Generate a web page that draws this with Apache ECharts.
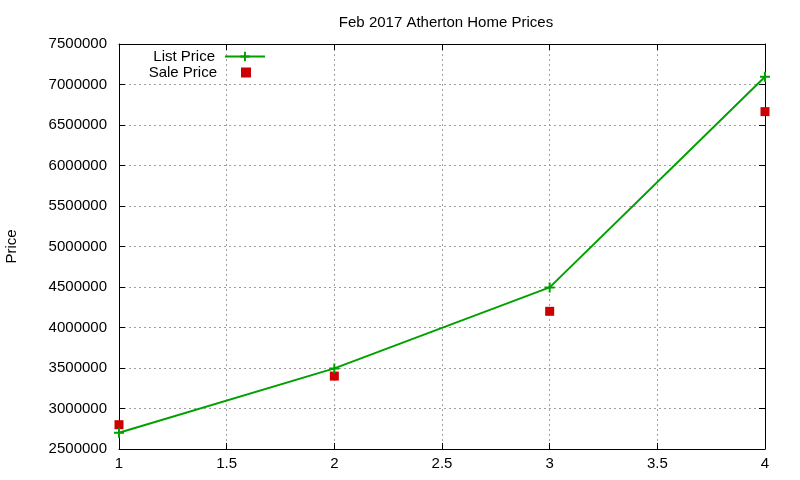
<!DOCTYPE html>
<html><head><meta charset="utf-8">
<script src="https://cdn.jsdelivr.net/npm/echarts@6/dist/echarts.min.js"></script>
<style>html,body{margin:0;padding:0;background:#fff}#c{width:800px;height:480px}</style>
</head><body><div id="c"></div>
<script>
const xValues = [1, 2, 3, 4];
const listPrice = [2700000, 3495000, 4495000, 7095000];
const salePrice = [2800000, 3400000, 4200000, 6665000];
const titleText = 'Feb 2017 Atherton Home Prices';
const yName = 'Price';

const chart = echarts.init(document.getElementById('c'));
const font = 'Liberation Sans, Arial, sans-serif';
const fs = 15;
const plus = 'path://M4,0H6V4H10V6H6V10H4V6H0V4H4Z';
const square = 'path://M0,0H10V10H0Z';
const axisCommon = {
  axisLine: {show: true, lineStyle: {color: '#000', width: 1}},
  axisTick: {show: true, inside: true, length: 6, lineStyle: {color: '#000'}},
};
chart.setOption({
  animation: false,
  title: {text: titleText, left: 441, top: 10, textAlign: 'center',
    textStyle: {fontFamily: font, fontSize: fs, fontWeight: 'normal', color: '#000'}},
  grid: {left: 119, right: 35, top: 44, bottom: 31, containLabel: false, outerBoundsMode: 'none'},
  legend: [{
    orient: 'horizontal', right: 534, top: 49, align: 'right', padding: 0,
    itemWidth: 40, itemHeight: 12,
    textStyle: {fontFamily: font, fontSize: fs, color: '#000', padding: [0, 5, 0, 0]},
    data: [{name: 'List Price'}]
  }, {
    orient: 'horizontal', right: 549, top: 65, align: 'right', padding: 0,
    itemWidth: 10, itemHeight: 10,
    textStyle: {fontFamily: font, fontSize: fs, color: '#000', padding: [0, 19, 0, 0]},
    data: [{name: 'Sale Price', icon: square}]
  }],
  xAxis: [{
    type: 'value', min: 1, max: 4, interval: 0.5, ...axisCommon,
    axisLabel: {fontFamily: font, fontSize: fs, color: '#000', margin: 7},
    splitLine: {show: true, lineStyle: {color: '#a0a0a0', type: [2, 3]}}
  }, {
    type: 'value', min: 1, max: 4, interval: 0.5, position: 'top', ...axisCommon,
    axisLabel: {show: false}, splitLine: {show: false}
  }],
  yAxis: [{
    type: 'value', min: 2500000, max: 7500000, interval: 500000, ...axisCommon,
    name: yName, nameLocation: 'middle', nameGap: 100, nameRotate: 90,
    nameTextStyle: {fontFamily: font, fontSize: fs, color: '#000'},
    axisLabel: {fontFamily: font, fontSize: fs, color: '#000', margin: 12,
      formatter: v => String(v)},
    splitLine: {show: true, lineStyle: {color: '#a0a0a0', type: [2, 3]}}
  }, {
    type: 'value', min: 2500000, max: 7500000, interval: 500000, position: 'right', ...axisCommon,
    axisLabel: {show: false}, splitLine: {show: false}
  }],
  series: [{
    name: 'List Price', type: 'line',
    data: xValues.map((x, i) => [x, listPrice[i]]),
    symbol: plus, symbolSize: 10, showSymbol: true,
    lineStyle: {color: '#00a000', width: 2},
    itemStyle: {color: '#00a000'}
  }, {
    name: 'Sale Price', type: 'scatter',
    data: xValues.map((x, i) => [x, salePrice[i]]),
    symbol: 'rect', symbolSize: 9,
    itemStyle: {color: '#cc0000', opacity: 1}
  }]
});
</script></body></html>
